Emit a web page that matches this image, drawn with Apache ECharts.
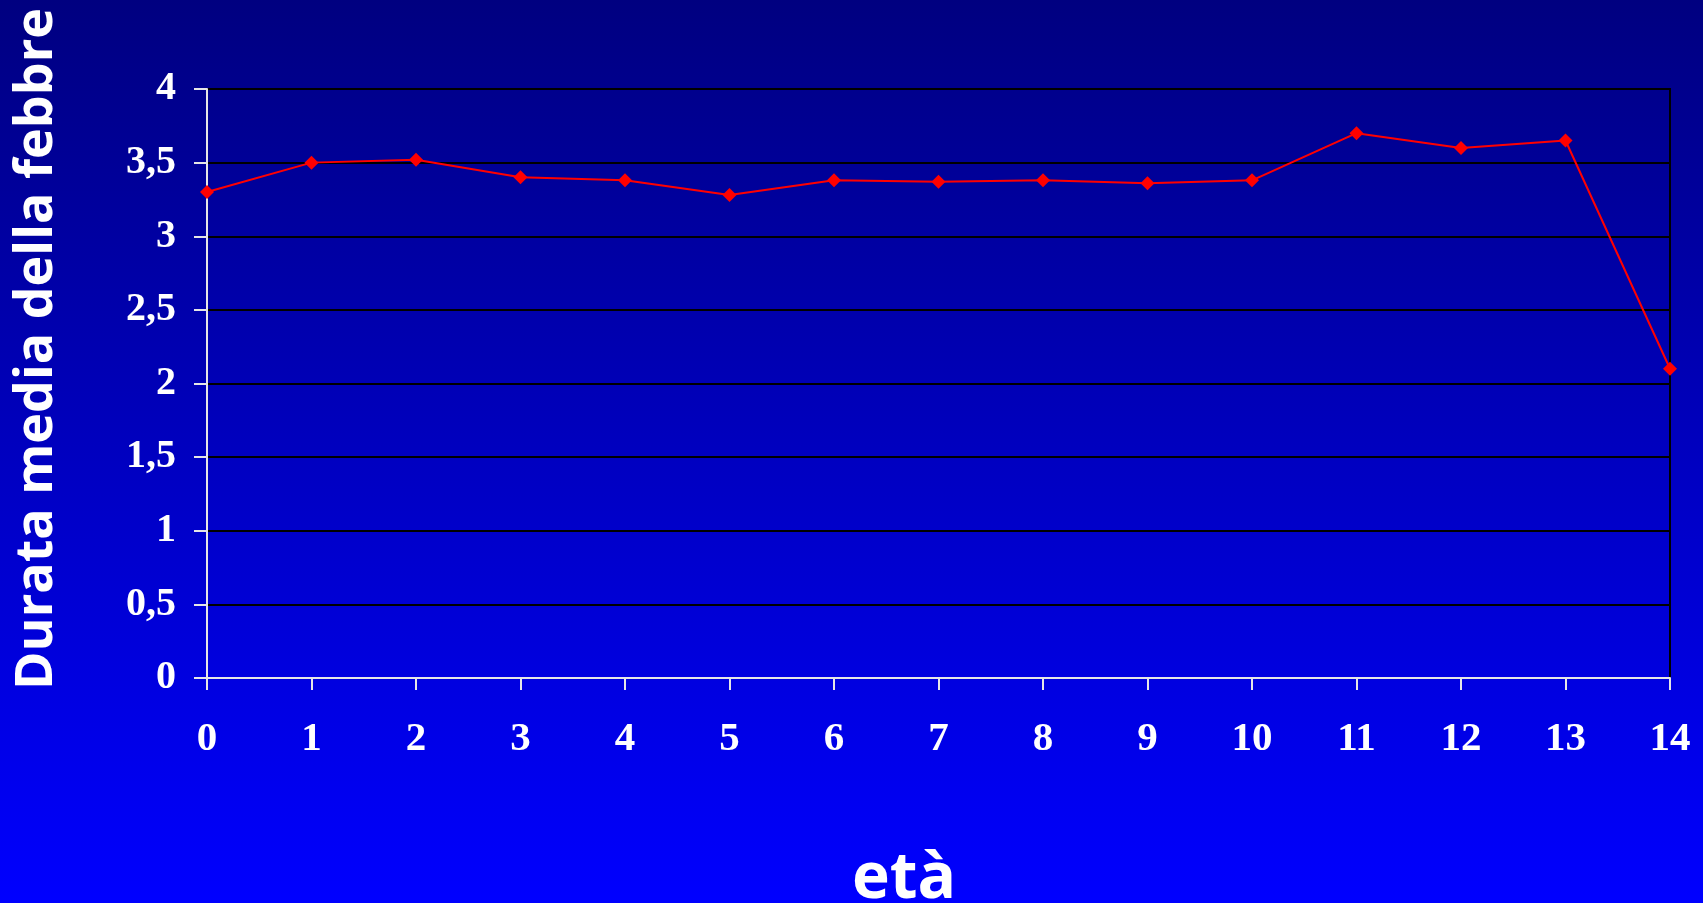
<!DOCTYPE html>
<html>
<head>
<meta charset="utf-8">
<script src="https://cdn.jsdelivr.net/npm/echarts@6/dist/echarts.min.js"></script>
<style>
  html, body { margin: 0; padding: 0; }
  #chart { width: 1703px; height: 903px; background: linear-gradient(to bottom, #000080 0%, #0000ff 100%); }
</style>
</head>
<body>
<div id="chart"></div>
<script>
const categories = ['0','1','2','3','4','5','6','7','8','9','10','11','12','13','14'];
const durata = [3.3, 3.5, 3.52, 3.4, 3.38, 3.28, 3.38, 3.37, 3.38, 3.36, 3.38, 3.7, 3.6, 3.65, 2.1];
const yTitle = 'Durata media della febbre';
const xTitle = 'età';

const chart = echarts.init(document.getElementById('chart'), null, { renderer: 'canvas' });
chart.setOption({
  backgroundColor: 'transparent',
  animation: false,
  grid: {
    left: 207, right: 33, top: 89, bottom: 225,
    show: true, borderColor: '#000000', borderWidth: 2, backgroundColor: 'transparent'
  },
  xAxis: {
    type: 'category',
    data: categories,
    boundaryGap: false,
    axisLine: { show: true, lineStyle: { color: '#e6e6e6', width: 2 } },
    axisTick: { show: true, length: 12, alignWithLabel: true, lineStyle: { color: '#e6e6e6', width: 2 } },
    axisLabel: {
      color: '#ffffff', fontFamily: 'Liberation Serif', fontWeight: 'bold', fontSize: 41,
      margin: 41, interval: 0
    },
    splitLine: { show: false }
  },
  yAxis: {
    type: 'value',
    min: 0, max: 4, interval: 0.5,
    axisLine: { show: true, lineStyle: { color: '#e6e6e6', width: 2 } },
    axisTick: { show: true, length: 13, lineStyle: { color: '#e6e6e6', width: 2 } },
    axisLabel: {
      color: '#ffffff', fontFamily: 'Liberation Serif', fontWeight: 'bold', fontSize: 40,
      margin: 31,
      formatter: v => String(v).replace('.', ',')
    },
    splitLine: { show: true, lineStyle: { color: '#000000', width: 2 } }
  },
  series: [{
    type: 'line',
    data: durata,
    symbol: 'diamond',
    symbolSize: 14,
    itemStyle: { color: '#ff0000' },
    lineStyle: { color: '#ff0000', width: 2 },
    z: 5
  }],
  graphic: [
    {
      type: 'text',
      x: 37, y: 349,
      rotation: Math.PI / 2,
      style: {
        text: yTitle, fill: '#ffffff',
        font: 'bold 52px "Open Sans"',
        align: 'center', verticalAlign: 'middle'
      }
    },
    {
      type: 'text',
      x: 904, y: 880,
      style: {
        text: xTitle, fill: '#ffffff',
        font: 'bold 64px "Open Sans"',
        align: 'center', verticalAlign: 'middle'
      }
    }
  ]
});
</script>
</body>
</html>
